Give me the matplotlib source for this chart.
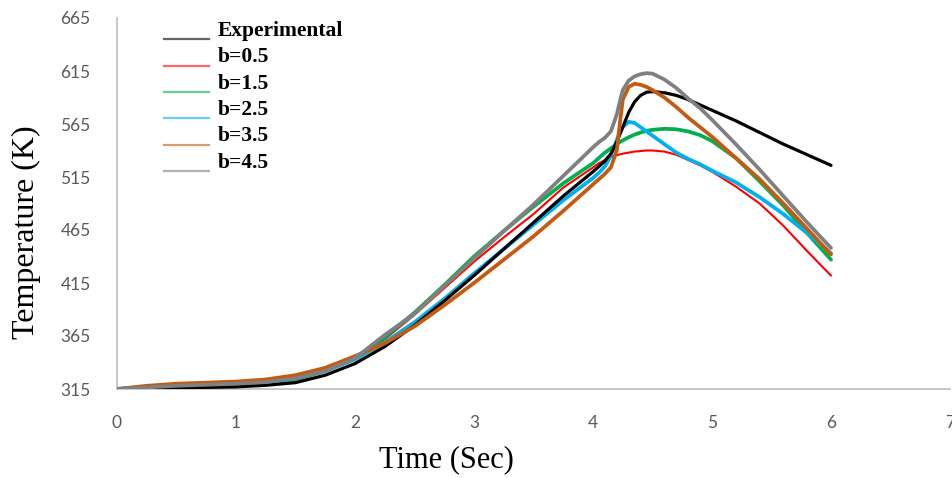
import matplotlib
matplotlib.use("Agg")
import matplotlib.pyplot as plt
from matplotlib.lines import Line2D
from matplotlib.legend_handler import HandlerLine2D

# ---- data ----
t = [0, 0.25, 0.5, 0.75, 1, 1.25, 1.5, 1.75, 2, 2.25, 2.5, 2.75, 3, 3.25, 3.5, 3.75,
     4.0, 4.05, 4.1, 4.15, 4.2, 4.225, 4.25, 4.3, 4.35, 4.4, 4.45, 4.5, 4.6, 4.7,
     4.8, 4.9, 5.0, 5.2, 5.4, 5.6, 5.8, 6.0]

exp_T = [315, 315.5, 316, 316.5, 317, 318.5, 321, 328, 339, 355, 375, 398, 422, 447, 472, 497,
         520, 525, 530, 537, 548, 555, 562, 576, 586, 592, 595, 595.5, 594.5, 592,
         588, 583, 578, 568, 557, 546, 536, 526]
b05_T = [315, 316.5, 317.5, 318.5, 319.5, 321, 325, 332, 343, 362, 385, 410, 435, 458, 480, 505,
         524, 528, 531, 533.5, 535.5, 536.3, 537, 538, 539, 539.5, 540, 540, 539, 536,
         531, 526, 520, 506, 490, 469, 445, 422]
b15_T = [315, 316, 317, 317.5, 318.5, 320.5, 324, 332, 344, 364, 387, 413, 440, 464, 487, 509,
         528, 533, 538, 542, 546, 548, 549.5, 552.5, 555, 557, 558.5, 559.5, 560.5, 560,
         558, 554.5, 549, 533, 511, 488, 462, 437]
b25_T = [315, 316.5, 317.5, 318.5, 319.5, 321, 325, 332, 343, 359, 378, 400, 424, 447, 470, 493,
         514, 519, 525, 535, 550, 557, 562, 567, 566, 562, 558, 554, 546, 538,
         532, 527, 521, 510, 496, 480, 462, 443]
b35_T = [315, 318, 320, 321, 322, 324, 328, 335, 346, 358, 374, 394, 415, 437, 459, 483,
         508, 513, 518, 524, 540, 565, 588, 600, 603, 602, 600, 597, 590, 581,
         571, 562, 553, 533, 513, 490, 466, 442]
b45_T = [315, 316.5, 318, 319, 320, 321.5, 325, 332, 344, 366, 386, 412, 438, 464, 489, 516,
         543, 548, 552, 558, 574, 586, 597, 606, 610, 612, 613, 612.5, 607, 599,
         589, 580, 569, 546, 522, 497, 472, 448]

labels = ["Experimental", "b=0.5", "b=1.5", "b=2.5", "b=3.5", "b=4.5"]
series = [exp_T, b05_T, b15_T, b25_T, b35_T, b45_T]
colors = ["#000000", "#FF0000", "#00B050", "#00B0F0", "#C55A11", "#808080"]
widths = [2.3, 1.5, 2.7, 2.7, 2.7, 2.7]
zorders = [4, 2, 3, 3.5, 5, 6]

xticks = [0, 1, 2, 3, 4, 5, 6, 7]
yticks = [315, 365, 415, 465, 515, 565, 615, 665]

# ---- figure ----
fig = plt.figure(figsize=(9.53, 4.78), dpi=100)
ax = fig.add_axes([117/953, 1 - 389/478, (950 - 117)/953, (389 - 18)/478])

for y, c, w, z in zip(series, colors, widths, zorders):
    ax.plot(t, y, color=c, lw=w, zorder=z, solid_capstyle="round",
            solid_joinstyle="round")

ax.set_xlim(0, 7)
ax.set_ylim(315, 665)
ax.set_xticks(xticks)
ax.set_yticks(yticks)
ax.tick_params(axis="both", length=0, labelsize=12.5, labelcolor="#595959")
ax.tick_params(axis="y", pad=19)
ax.tick_params(axis="x", pad=19)
for lab in ax.get_xticklabels() + ax.get_yticklabels():
    lab.set_fontfamily("Lato")

for s in ["top", "right"]:
    ax.spines[s].set_visible(False)
for s in ["left", "bottom"]:
    ax.spines[s].set_color("#BFBFBF")
    ax.spines[s].set_linewidth(1.2)

ax.set_xlabel("Time (Sec)", fontfamily="Liberation Serif", fontsize=22)
ax.set_ylabel("Temperature (K)", fontfamily="Liberation Serif", fontsize=23)
ax.xaxis.label.set_va("center")
ax.xaxis.set_label_coords(0.396, -0.191)
ax.yaxis.label.set_va("center")
ax.yaxis.label.set_ha("center")
ax.yaxis.set_label_coords(-0.109, 0.423)


class LowLine(HandlerLine2D):
    def create_artists(self, legend, orig_handle, xdescent, ydescent, width, height,
                       fontsize, trans):
        return super().create_artists(legend, orig_handle, xdescent,
                                      ydescent + 1.0 * fontsize, width, height,
                                      fontsize, trans)


handles = [Line2D([], [], color=c, lw=1.6, alpha=0.6) for c in colors]
leg = fig.legend(handles, labels, loc="upper left",
                 bbox_to_anchor=(164/953, 1 - 21/478), frameon=False,
                 prop={"family": "Liberation Serif", "weight": "bold", "size": 15.5},
                 handlelength=2.1, handletextpad=0.4, labelspacing=0.29,
                 borderpad=0, borderaxespad=0,
                 handler_map={Line2D: LowLine()})

fig.savefig("out.png", dpi=100)
